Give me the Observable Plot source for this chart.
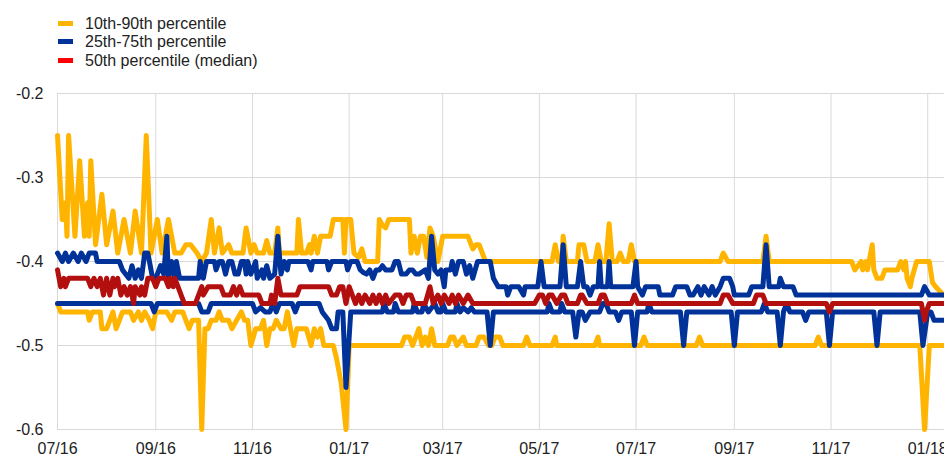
<!DOCTYPE html>
<html>
<head>
<meta charset="utf-8">
<script src="https://cdn.jsdelivr.net/npm/d3@7"></script>
<script src="https://cdn.jsdelivr.net/npm/@observablehq/plot@0.6"></script>
<style>
  html, body { margin: 0; padding: 0; background: #fff; }
  body { width: 944px; height: 456px; overflow: hidden; font-family: "Liberation Sans", Arial, sans-serif; color: #222; }
  #legend { position: relative; height: 80px; }
  .row { position: absolute; left: 0; height: 19px; }
  .sw { position: absolute; left: 58px; width: 15px; height: 5px; }
  .lab { position: absolute; left: 85px; font-size: 16px; line-height: 19px; white-space: nowrap; }
</style>
</head>
<body>
<div id="legend"></div>
<div id="chart"></div>
<script>
// ---- data ----
const seriesNames = ["10th-90th percentile", "25th-75th percentile", "50th percentile (median)"];
const legendColors = ["#FFB400", "#003299", "#FF0000"];
const lineColors = ["#FFB400", "#003299", "#B30F0F"];

const xTickLabels = ["2016-07-01","2016-09-01","2016-11-01","2017-01-01","2017-03-01","2017-05-01","2017-07-01","2017-09-01","2017-11-01","2018-01-01"];
const yTickValues = [-0.2, -0.3, -0.4, -0.5, -0.6];

const p90 = [
["2016-07-01",-0.25],["2016-07-04",-0.35],["2016-07-06",-0.33],["2016-07-07",-0.37],["2016-07-08",-0.25],["2016-07-12",-0.37],["2016-07-15",-0.28],["2016-07-18",-0.37],["2016-07-20",-0.33],["2016-07-21",-0.37],["2016-07-22",-0.28],["2016-07-25",-0.38],["2016-07-29",-0.32],["2016-08-01",-0.38],["2016-08-05",-0.34],["2016-08-08",-0.39],["2016-08-12",-0.35],["2016-08-16",-0.39],["2016-08-19",-0.34],["2016-08-23",-0.39],["2016-08-26",-0.25],["2016-08-29",-0.39],["2016-09-02",-0.35],["2016-09-05",-0.39],["2016-09-09",-0.35],["2016-09-13",-0.39],["2016-09-17",-0.39],["2016-09-20",-0.38],["2016-09-23",-0.38],["2016-09-27",-0.39],["2016-09-30",-0.40],["2016-10-03",-0.39],["2016-10-06",-0.35],["2016-10-08",-0.39],["2016-10-11",-0.36],["2016-10-13",-0.39],["2016-10-17",-0.38],["2016-10-19",-0.39],["2016-10-26",-0.39],["2016-10-28",-0.36],["2016-10-31",-0.39],["2016-11-02",-0.38],["2016-11-04",-0.39],["2016-11-08",-0.39],["2016-11-10",-0.375],["2016-11-12",-0.39],["2016-11-15",-0.39],["2016-11-17",-0.36],["2016-11-18",-0.39],["2016-11-29",-0.39],["2016-11-30",-0.35],["2016-12-02",-0.39],["2016-12-05",-0.39],["2016-12-07",-0.38],["2016-12-08",-0.39],["2016-12-10",-0.37],["2016-12-12",-0.39],["2016-12-14",-0.37],["2016-12-20",-0.37],["2016-12-22",-0.35],["2016-12-28",-0.35],["2016-12-29",-0.39],["2016-12-30",-0.35],["2017-01-02",-0.35],["2017-01-04",-0.39],["2017-01-07",-0.395],["2017-01-09",-0.385],["2017-01-11",-0.40],["2017-01-19",-0.40],["2017-01-20",-0.35],["2017-01-22",-0.357],["2017-01-24",-0.36],["2017-01-26",-0.35],["2017-02-08",-0.35],["2017-02-09",-0.39],["2017-02-11",-0.37],["2017-02-13",-0.39],["2017-02-15",-0.37],["2017-02-17",-0.37],["2017-02-19",-0.395],["2017-02-21",-0.36],["2017-02-23",-0.37],["2017-02-26",-0.40],["2017-03-01",-0.37],["2017-03-17",-0.37],["2017-03-20",-0.385],["2017-03-22",-0.38],["2017-03-24",-0.38],["2017-03-28",-0.40],["2017-05-09",-0.40],["2017-05-11",-0.38],["2017-05-13",-0.40],["2017-05-15",-0.40],["2017-05-16",-0.37],["2017-05-18",-0.40],["2017-05-25",-0.40],["2017-05-26",-0.38],["2017-05-29",-0.38],["2017-05-31",-0.40],["2017-06-05",-0.40],["2017-06-07",-0.38],["2017-06-09",-0.40],["2017-06-12",-0.40],["2017-06-14",-0.355],["2017-06-16",-0.40],["2017-06-19",-0.40],["2017-06-21",-0.39],["2017-06-23",-0.40],["2017-06-26",-0.40],["2017-06-28",-0.38],["2017-06-30",-0.40],["2017-08-23",-0.40],["2017-08-25",-0.39],["2017-08-28",-0.40],["2017-09-19",-0.40],["2017-09-21",-0.37],["2017-09-23",-0.40],["2017-11-14",-0.40],["2017-11-16",-0.41],["2017-11-20",-0.40],["2017-11-21",-0.41],["2017-11-23",-0.40],["2017-11-24",-0.41],["2017-11-27",-0.38],["2017-11-28",-0.41],["2017-11-30",-0.42],["2017-12-03",-0.42],["2017-12-05",-0.41],["2017-12-13",-0.41],["2017-12-15",-0.40],["2017-12-17",-0.41],["2017-12-18",-0.40],["2017-12-19",-0.42],["2017-12-21",-0.43],["2017-12-22",-0.42],["2017-12-25",-0.40],["2018-01-02",-0.40],["2018-01-04",-0.425],["2018-01-06",-0.43],["2018-01-11",-0.44]
];

const p75 = [
["2016-07-01",-0.39],["2016-07-04",-0.40],["2016-07-06",-0.39],["2016-07-08",-0.40],["2016-07-11",-0.39],["2016-07-14",-0.40],["2016-07-16",-0.39],["2016-07-19",-0.40],["2016-07-21",-0.39],["2016-07-25",-0.39],["2016-07-26",-0.40],["2016-08-09",-0.40],["2016-08-11",-0.41],["2016-08-15",-0.42],["2016-08-17",-0.405],["2016-08-19",-0.42],["2016-08-21",-0.41],["2016-08-23",-0.42],["2016-08-25",-0.39],["2016-08-27",-0.39],["2016-08-28",-0.40],["2016-08-30",-0.42],["2016-09-01",-0.42],["2016-09-04",-0.405],["2016-09-06",-0.415],["2016-09-08",-0.37],["2016-09-09",-0.42],["2016-09-11",-0.40],["2016-09-13",-0.42],["2016-09-14",-0.40],["2016-09-16",-0.42],["2016-09-28",-0.42],["2016-09-29",-0.40],["2016-10-01",-0.42],["2016-10-03",-0.40],["2016-10-08",-0.40],["2016-10-09",-0.41],["2016-10-11",-0.40],["2016-10-13",-0.40],["2016-10-15",-0.415],["2016-10-17",-0.40],["2016-10-19",-0.40],["2016-10-21",-0.415],["2016-10-23",-0.415],["2016-10-25",-0.40],["2016-10-27",-0.40],["2016-10-28",-0.415],["2016-10-29",-0.40],["2016-10-31",-0.415],["2016-11-03",-0.40],["2016-11-04",-0.42],["2016-11-07",-0.41],["2016-11-08",-0.42],["2016-11-10",-0.405],["2016-11-12",-0.42],["2016-11-15",-0.415],["2016-11-17",-0.37],["2016-11-19",-0.415],["2016-11-21",-0.40],["2016-11-23",-0.41],["2016-11-24",-0.40],["2016-12-06",-0.40],["2016-12-08",-0.41],["2016-12-09",-0.40],["2016-12-18",-0.40],["2016-12-19",-0.41],["2016-12-21",-0.40],["2016-12-30",-0.40],["2016-12-31",-0.41],["2017-01-02",-0.40],["2017-01-06",-0.40],["2017-01-08",-0.41],["2017-01-10",-0.413],["2017-01-12",-0.415],["2017-01-14",-0.41],["2017-01-16",-0.42],["2017-01-18",-0.41],["2017-01-20",-0.41],["2017-01-22",-0.405],["2017-01-24",-0.41],["2017-01-28",-0.41],["2017-01-30",-0.40],["2017-02-01",-0.40],["2017-02-03",-0.415],["2017-02-06",-0.415],["2017-02-08",-0.41],["2017-02-10",-0.41],["2017-02-12",-0.415],["2017-02-14",-0.415],["2017-02-18",-0.41],["2017-02-20",-0.42],["2017-02-22",-0.37],["2017-02-24",-0.41],["2017-02-26",-0.415],["2017-02-28",-0.41],["2017-03-01",-0.42],["2017-03-02",-0.43],["2017-03-03",-0.41],["2017-03-06",-0.41],["2017-03-07",-0.40],["2017-03-09",-0.415],["2017-03-11",-0.40],["2017-03-14",-0.40],["2017-03-16",-0.415],["2017-03-18",-0.405],["2017-03-20",-0.42],["2017-03-23",-0.40],["2017-03-31",-0.40],["2017-04-02",-0.42],["2017-04-05",-0.43],["2017-04-10",-0.43],["2017-04-11",-0.44],["2017-04-13",-0.43],["2017-04-18",-0.43],["2017-04-21",-0.44],["2017-04-22",-0.43],["2017-04-30",-0.43],["2017-05-02",-0.40],["2017-05-04",-0.43],["2017-05-14",-0.43],["2017-05-16",-0.38],["2017-05-18",-0.43],["2017-05-25",-0.43],["2017-05-27",-0.40],["2017-05-29",-0.43],["2017-05-31",-0.43],["2017-06-02",-0.44],["2017-06-04",-0.43],["2017-06-07",-0.43],["2017-06-08",-0.40],["2017-06-09",-0.43],["2017-06-13",-0.43],["2017-06-14",-0.40],["2017-06-15",-0.43],["2017-06-29",-0.43],["2017-07-01",-0.40],["2017-07-02",-0.43],["2017-07-05",-0.44],["2017-07-07",-0.43],["2017-07-15",-0.43],["2017-07-16",-0.44],["2017-07-24",-0.44],["2017-07-26",-0.43],["2017-08-02",-0.43],["2017-08-04",-0.44],["2017-08-06",-0.44],["2017-08-09",-0.43],["2017-08-11",-0.44],["2017-08-13",-0.43],["2017-08-16",-0.44],["2017-08-18",-0.43],["2017-08-20",-0.44],["2017-08-23",-0.43],["2017-08-25",-0.42],["2017-08-29",-0.42],["2017-08-31",-0.43],["2017-09-01",-0.44],["2017-09-10",-0.44],["2017-09-12",-0.43],["2017-09-19",-0.43],["2017-09-21",-0.38],["2017-09-23",-0.43],["2017-09-29",-0.43],["2017-09-30",-0.42],["2017-10-02",-0.43],["2017-10-08",-0.43],["2017-10-10",-0.44],["2017-12-28",-0.44],["2017-12-30",-0.43],["2018-01-02",-0.44],["2018-01-11",-0.44]
];

const p50 = [
["2016-07-01",-0.41],["2016-07-03",-0.43],["2016-07-05",-0.42],["2016-07-06",-0.43],["2016-07-08",-0.42],["2016-07-20",-0.42],["2016-07-22",-0.43],["2016-07-24",-0.42],["2016-07-26",-0.43],["2016-07-28",-0.42],["2016-07-30",-0.44],["2016-08-01",-0.42],["2016-08-03",-0.44],["2016-08-05",-0.42],["2016-08-06",-0.43],["2016-08-08",-0.42],["2016-08-10",-0.44],["2016-08-12",-0.43],["2016-08-14",-0.44],["2016-08-16",-0.43],["2016-08-18",-0.45],["2016-08-19",-0.43],["2016-08-22",-0.44],["2016-08-23",-0.43],["2016-08-25",-0.44],["2016-08-27",-0.42],["2016-08-30",-0.42],["2016-09-01",-0.43],["2016-09-03",-0.42],["2016-09-07",-0.42],["2016-09-09",-0.43],["2016-09-10",-0.42],["2016-09-12",-0.43],["2016-09-13",-0.42],["2016-09-15",-0.43],["2016-09-17",-0.44],["2016-09-19",-0.45],["2016-09-26",-0.45],["2016-09-28",-0.44],["2016-09-30",-0.43],["2016-10-01",-0.44],["2016-10-04",-0.43],["2016-10-12",-0.43],["2016-10-14",-0.44],["2016-10-18",-0.44],["2016-10-20",-0.43],["2016-10-22",-0.44],["2016-10-24",-0.43],["2016-10-26",-0.44],["2016-11-05",-0.44],["2016-11-07",-0.45],["2016-11-12",-0.45],["2016-11-13",-0.44],["2016-11-15",-0.45],["2016-11-17",-0.42],["2016-11-19",-0.44],["2016-11-29",-0.44],["2016-12-01",-0.43],["2016-12-19",-0.43],["2016-12-21",-0.44],["2016-12-24",-0.44],["2016-12-26",-0.43],["2016-12-28",-0.43],["2016-12-30",-0.45],["2017-01-01",-0.43],["2017-01-03",-0.44],["2017-01-05",-0.45],["2017-01-07",-0.44],["2017-01-09",-0.45],["2017-01-11",-0.44],["2017-01-14",-0.45],["2017-01-16",-0.44],["2017-01-18",-0.45],["2017-01-20",-0.44],["2017-01-22",-0.45],["2017-01-24",-0.44],["2017-01-26",-0.45],["2017-01-30",-0.44],["2017-02-02",-0.44],["2017-02-04",-0.45],["2017-02-06",-0.44],["2017-02-09",-0.44],["2017-02-11",-0.45],["2017-02-18",-0.45],["2017-02-21",-0.43],["2017-02-23",-0.45],["2017-02-26",-0.44],["2017-02-28",-0.45],["2017-03-02",-0.44],["2017-03-05",-0.45],["2017-03-07",-0.44],["2017-03-09",-0.45],["2017-03-11",-0.44],["2017-03-14",-0.45],["2017-03-17",-0.44],["2017-03-20",-0.45],["2017-04-28",-0.45],["2017-05-01",-0.44],["2017-05-03",-0.44],["2017-05-05",-0.45],["2017-05-07",-0.44],["2017-05-09",-0.44],["2017-05-12",-0.45],["2017-05-15",-0.44],["2017-05-17",-0.44],["2017-05-19",-0.45],["2017-05-25",-0.45],["2017-05-27",-0.44],["2017-05-28",-0.44],["2017-05-31",-0.45],["2017-06-07",-0.45],["2017-06-09",-0.44],["2017-06-11",-0.44],["2017-06-13",-0.45],["2017-06-28",-0.45],["2017-06-30",-0.44],["2017-07-02",-0.45],["2017-08-23",-0.45],["2017-08-25",-0.44],["2017-08-28",-0.44],["2017-08-31",-0.45],["2017-09-13",-0.45],["2017-09-15",-0.44],["2017-09-19",-0.44],["2017-09-21",-0.45],["2017-10-29",-0.45],["2017-10-31",-0.46],["2017-11-02",-0.45],["2017-12-28",-0.45],["2017-12-30",-0.47],["2017-12-31",-0.46],["2018-01-02",-0.45],["2018-01-11",-0.45]
];

const p25 = [
["2016-07-01",-0.45],["2016-08-29",-0.45],["2016-08-31",-0.46],["2016-09-02",-0.45],["2016-09-28",-0.45],["2016-09-30",-0.46],["2016-10-04",-0.46],["2016-10-06",-0.45],["2016-11-01",-0.45],["2016-11-03",-0.46],["2016-11-06",-0.455],["2016-11-09",-0.46],["2016-11-12",-0.46],["2016-11-14",-0.45],["2016-11-16",-0.46],["2016-11-18",-0.45],["2016-11-26",-0.45],["2016-11-28",-0.46],["2016-11-30",-0.45],["2016-12-13",-0.45],["2016-12-15",-0.46],["2016-12-19",-0.47],["2016-12-21",-0.48],["2016-12-24",-0.48],["2016-12-25",-0.46],["2016-12-28",-0.46],["2016-12-30",-0.55],["2017-01-02",-0.46],["2017-01-22",-0.46],["2017-01-23",-0.45],["2017-01-25",-0.46],["2017-01-29",-0.46],["2017-01-30",-0.45],["2017-02-01",-0.46],["2017-02-10",-0.46],["2017-02-11",-0.45],["2017-02-13",-0.46],["2017-02-16",-0.46],["2017-02-17",-0.45],["2017-02-20",-0.46],["2017-02-22",-0.455],["2017-02-24",-0.45],["2017-02-26",-0.46],["2017-02-28",-0.46],["2017-03-01",-0.45],["2017-03-03",-0.46],["2017-03-09",-0.46],["2017-03-10",-0.45],["2017-03-12",-0.46],["2017-03-14",-0.455],["2017-03-17",-0.46],["2017-03-19",-0.455],["2017-03-21",-0.46],["2017-03-29",-0.46],["2017-03-31",-0.50],["2017-04-02",-0.46],["2017-05-06",-0.46],["2017-05-07",-0.45],["2017-05-09",-0.46],["2017-05-14",-0.46],["2017-05-15",-0.45],["2017-05-17",-0.46],["2017-05-22",-0.46],["2017-05-24",-0.49],["2017-05-26",-0.46],["2017-05-28",-0.46],["2017-05-30",-0.47],["2017-06-02",-0.46],["2017-06-08",-0.46],["2017-06-10",-0.45],["2017-06-12",-0.45],["2017-06-14",-0.46],["2017-06-18",-0.46],["2017-06-20",-0.47],["2017-06-22",-0.46],["2017-06-28",-0.46],["2017-06-30",-0.50],["2017-07-02",-0.46],["2017-07-08",-0.46],["2017-07-09",-0.45],["2017-07-11",-0.46],["2017-07-29",-0.46],["2017-07-31",-0.50],["2017-08-02",-0.46],["2017-08-30",-0.46],["2017-09-01",-0.50],["2017-09-03",-0.46],["2017-09-18",-0.46],["2017-09-20",-0.45],["2017-09-22",-0.46],["2017-09-28",-0.46],["2017-09-30",-0.50],["2017-10-02",-0.46],["2017-10-04",-0.45],["2017-10-06",-0.46],["2017-10-14",-0.46],["2017-10-16",-0.47],["2017-10-18",-0.46],["2017-10-29",-0.46],["2017-10-31",-0.50],["2017-11-02",-0.46],["2017-11-28",-0.46],["2017-11-30",-0.50],["2017-12-02",-0.46],["2017-12-27",-0.46],["2017-12-29",-0.50],["2018-01-01",-0.46],["2018-01-03",-0.46],["2018-01-05",-0.47],["2018-01-11",-0.47]
];

const p10 = [
["2016-07-01",-0.45],["2016-07-03",-0.46],["2016-07-20",-0.46],["2016-07-21",-0.47],["2016-07-23",-0.46],["2016-07-28",-0.46],["2016-07-29",-0.48],["2016-08-01",-0.48],["2016-08-03",-0.47],["2016-08-05",-0.46],["2016-08-07",-0.48],["2016-08-09",-0.47],["2016-08-11",-0.46],["2016-08-16",-0.46],["2016-08-18",-0.47],["2016-08-21",-0.46],["2016-08-23",-0.47],["2016-08-25",-0.46],["2016-08-28",-0.47],["2016-08-30",-0.48],["2016-09-01",-0.46],["2016-09-08",-0.46],["2016-09-11",-0.47],["2016-09-13",-0.46],["2016-09-18",-0.46],["2016-09-20",-0.47],["2016-09-22",-0.48],["2016-09-24",-0.47],["2016-09-28",-0.47],["2016-09-30",-0.60],["2016-10-02",-0.48],["2016-10-04",-0.48],["2016-10-06",-0.47],["2016-10-09",-0.47],["2016-10-11",-0.46],["2016-10-13",-0.47],["2016-10-17",-0.47],["2016-10-19",-0.48],["2016-10-22",-0.47],["2016-10-25",-0.46],["2016-10-27",-0.47],["2016-10-29",-0.47],["2016-10-31",-0.50],["2016-11-03",-0.48],["2016-11-06",-0.48],["2016-11-08",-0.47],["2016-11-10",-0.50],["2016-11-12",-0.48],["2016-11-14",-0.48],["2016-11-16",-0.47],["2016-11-19",-0.48],["2016-11-21",-0.48],["2016-11-23",-0.46],["2016-11-25",-0.48],["2016-11-27",-0.50],["2016-11-29",-0.48],["2016-12-05",-0.48],["2016-12-08",-0.50],["2016-12-10",-0.48],["2016-12-12",-0.49],["2016-12-14",-0.48],["2016-12-16",-0.50],["2016-12-22",-0.50],["2016-12-24",-0.515],["2016-12-27",-0.545],["2016-12-30",-0.60],["2017-01-01",-0.50],["2017-02-03",-0.50],["2017-02-05",-0.49],["2017-02-08",-0.49],["2017-02-10",-0.50],["2017-02-12",-0.49],["2017-02-14",-0.48],["2017-02-16",-0.50],["2017-02-18",-0.49],["2017-02-20",-0.50],["2017-02-22",-0.48],["2017-02-24",-0.50],["2017-03-04",-0.50],["2017-03-06",-0.49],["2017-03-08",-0.49],["2017-03-10",-0.50],["2017-03-14",-0.49],["2017-03-16",-0.50],["2017-03-22",-0.50],["2017-03-24",-0.49],["2017-03-27",-0.49],["2017-03-30",-0.50],["2017-04-01",-0.50],["2017-04-03",-0.49],["2017-04-06",-0.49],["2017-04-08",-0.50],["2017-04-21",-0.50],["2017-04-23",-0.49],["2017-04-25",-0.50],["2017-05-09",-0.50],["2017-05-11",-0.49],["2017-05-12",-0.50],["2017-06-05",-0.50],["2017-06-07",-0.49],["2017-06-08",-0.50],["2017-07-04",-0.50],["2017-07-06",-0.49],["2017-07-08",-0.50],["2017-08-08",-0.50],["2017-08-10",-0.49],["2017-08-12",-0.50],["2017-10-22",-0.50],["2017-10-24",-0.49],["2017-10-26",-0.50],["2017-12-27",-0.50],["2017-12-30",-0.60],["2018-01-02",-0.50],["2018-01-11",-0.50]
];

// ---- legend ----
const legend = document.getElementById("legend");
const rowCenters = [23.3, 41.9, 60.7];
seriesNames.forEach((name, i) => {
  const sw = document.createElement("div");
  sw.className = "sw";
  sw.style.top = (rowCenters[i] - 2.5) + "px";
  sw.style.background = legendColors[i];
  legend.appendChild(sw);
  const lab = document.createElement("div");
  lab.className = "lab";
  lab.style.top = (rowCenters[i] - 9.5) + "px";
  lab.textContent = name;
  legend.appendChild(lab);
});

// ---- chart ----
const toRows = arr => arr.map(([d, v]) => ({date: new Date(d), value: v}));
const xTicks = xTickLabels.map(d => new Date(d));
const fmt = d3.utcFormat("%m/%y");
const lineOpts = (color) => ({x: "date", y: "value", stroke: color, strokeWidth: 5, strokeLinejoin: "round", strokeLinecap: "round"});

const chart = Plot.plot({
  width: 944,
  height: 376,
  marginTop: 13,
  marginBottom: 27,
  marginLeft: 57,
  marginRight: 0,
  style: {fontFamily: "'Liberation Sans', Arial, sans-serif", fontSize: "16px", color: "#222", background: "white"},
  x: {type: "utc", domain: [new Date("2016-07-01"), new Date(Date.UTC(2018, 0, 11, 14))], ticks: xTicks, tickFormat: fmt, tickSize: 0, tickPadding: 13, label: null},
  y: {domain: [-0.6, -0.2], ticks: yTickValues, tickFormat: d => d.toFixed(1), tickSize: 0, tickPadding: 14, label: null},
  marks: [
    Plot.ruleX(xTicks, {stroke: "#d9d9d9", strokeWidth: 1}),
    Plot.ruleY(yTickValues, {stroke: "#d9d9d9", strokeWidth: 1}),
    Plot.line(toRows(p90), lineOpts(lineColors[0])),
    Plot.line(toRows(p10), lineOpts(lineColors[0])),
    Plot.line(toRows(p75), lineOpts(lineColors[1])),
    Plot.line(toRows(p25), lineOpts(lineColors[1])),
    Plot.line(toRows(p50), lineOpts(lineColors[2]))
  ]
});
document.getElementById("chart").appendChild(chart);
</script>
</body>
</html>
